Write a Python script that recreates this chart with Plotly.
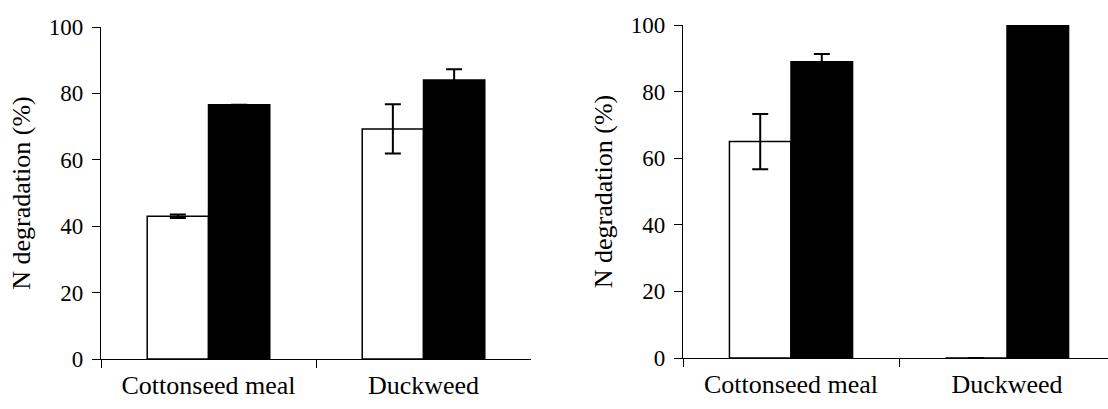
import plotly.graph_objects as go

categories = ["Cottonseed meal", "Duckweed"]

# Left panel
left_white = [43.0, 69.3]
left_white_err = [0.5, 7.4]
left_black = [76.6, 84.0]
left_black_err = [0.0, 3.3]

# Right panel
right_white = [65.0, 0.0]
right_white_err = [8.3, 0.0]
right_black = [89.0, 100.0]
right_black_err = [2.3, 0.0]

y_ticks = [0, 20, 40, 60, 80, 100]

FONT = "Liberation Serif"
fig = go.Figure()

def add_pair(white, werr, black, berr, xa, ya):
    fig.add_trace(go.Bar(
        x=categories, y=white, xaxis=xa, yaxis=ya,
        marker=dict(color="white", line=dict(color="black", width=1.5)),
        error_y=dict(type="data", array=werr, color="black", thickness=2, width=8),
        showlegend=False,
    ))
    fig.add_trace(go.Bar(
        x=categories, y=black, xaxis=xa, yaxis=ya,
        marker=dict(color="black", line=dict(color="black", width=1.5)),
        error_y=dict(type="data", array=berr, color="black", thickness=2, width=8),
        showlegend=False,
    ))

add_pair(left_white, left_white_err, left_black, left_black_err, "x", "y")
add_pair(right_white, right_white_err, right_black, right_black_err, "x2", "y2")

xcommon = dict(
    type="category", showline=True, linecolor="black", linewidth=1.2,
    ticks="outside", tickson="boundaries", ticklen=8, tickcolor="black",
    showgrid=False, zeroline=False, automargin=False,
    tickfont=dict(family=FONT, size=26, color="black"),
    ticklabelstandoff=3,
)
ycommon = dict(
    range=[0, 100], tickvals=y_ticks, showline=True, linecolor="black", linewidth=1.2,
    ticks="outside", ticklen=8, tickcolor="black", showgrid=False, zeroline=False,
    automargin=False,
    tickfont=dict(family=FONT, size=23, color="black"),
    title=dict(text="N degradation (%)", font=dict(family=FONT, size=26, color="black"), standoff=10),
    ticklabelstandoff=4,
)

fig.update_layout(
    width=1108, height=409,
    margin=dict(l=0, r=0, t=0, b=0),
    paper_bgcolor="white", plot_bgcolor="white",
    barmode="group", bargap=0.43, bargroupgap=0,
    xaxis=dict(domain=[101/1108, 531/1108], range=[-0.5, 1.5], anchor="y", **xcommon),
    yaxis=dict(domain=[1-359/409, 1-27/409], anchor="x", **ycommon),
    xaxis2=dict(domain=[683/1108, 1.0], range=[-0.5, 1.4676], anchor="y2", **xcommon),
    yaxis2=dict(domain=[1-358/409, 1-25/409], anchor="x2", **ycommon),
)

fig.write_html("out.html")
